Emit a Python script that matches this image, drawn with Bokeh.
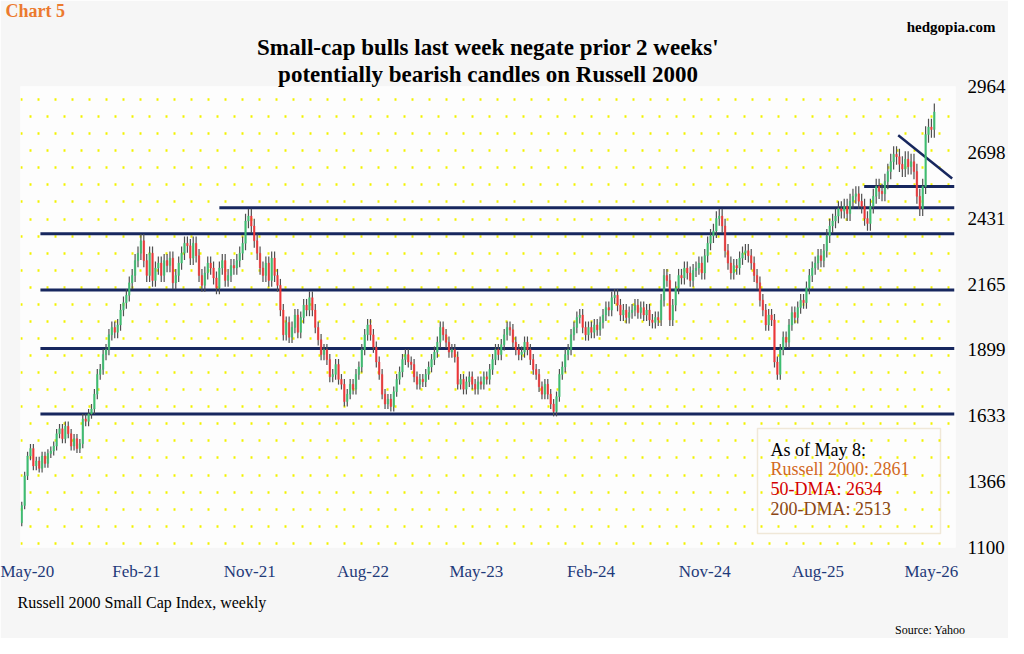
import pandas as pd
from bokeh.plotting import figure
from bokeh.models import (FixedTicker, DatetimeTickFormatter, Label, Grid, Range1d,
                          ColumnDataSource, BoxAnnotation, Title)
from bokeh.embed import file_html
from bokeh.resources import INLINE

# ---------------- data ----------------
start_date = "2020-05-01"
first_open = 1200
closes = [
    1270, 1390, 1470, 1500, 1430, 1450, 1420, 1470, 1440, 1480,
    1490, 1510, 1560, 1580, 1540, 1590, 1560, 1510, 1540, 1500,
    1520, 1620, 1610, 1640, 1660, 1720, 1800, 1820, 1880, 1900,
    1960, 1990, 1970, 2000, 2060, 2090, 2120, 2170, 2200, 2260,
    2290, 2340, 2260, 2200, 2290, 2180, 2230, 2250, 2200, 2260,
    2240, 2270, 2170, 2200, 2250, 2290, 2330, 2320, 2270, 2330,
    2280, 2200, 2160, 2210, 2250, 2230, 2190, 2150, 2230, 2260,
    2180, 2200, 2240, 2230, 2260, 2290, 2330, 2420, 2440, 2400,
    2340, 2290, 2230, 2200, 2250, 2180, 2270, 2200, 2160, 2060,
    1960, 2010, 1950, 1990, 2040, 1970, 2030, 2080, 2060, 2110,
    2060, 1990, 1940, 1880, 1900, 1860, 1790, 1800, 1840, 1780,
    1760, 1690, 1720, 1760, 1740, 1800, 1830, 1900, 1960, 2000,
    1960, 1910, 1850, 1800, 1720, 1680, 1700, 1670, 1730, 1780,
    1810, 1860, 1880, 1850, 1840, 1790, 1760, 1780, 1770, 1800,
    1830, 1860, 1890, 1930, 1990, 1960, 1930, 1890, 1900, 1870,
    1760, 1780, 1740, 1770, 1790, 1760, 1740, 1770, 1760, 1790,
    1780, 1820, 1860, 1900, 1880, 1920, 1960, 1990, 1980, 1930,
    1900, 1880, 1890, 1930, 1900, 1860, 1820, 1800, 1750, 1720,
    1760, 1720, 1680, 1650, 1710, 1800, 1830, 1880, 1900, 1960,
    1990, 2030, 2040, 1990, 1960, 1990, 1970, 2000, 1980, 2010,
    2040, 2070, 2060, 2110, 2120, 2080, 2040, 2060, 2030, 2050,
    2060, 2080, 2050, 2070, 2040, 2060, 2020, 2010, 2030, 2020,
    2100, 2200, 2180, 2020, 2080, 2150, 2200, 2190, 2230, 2210,
    2180, 2220, 2230, 2250, 2210, 2280, 2330, 2360, 2380, 2430,
    2440, 2400, 2300, 2250, 2210, 2240, 2230, 2270, 2290, 2300,
    2280, 2250, 2200, 2170, 2100, 2060, 2000, 2040, 2020, 1850,
    1800, 1900, 1950, 1930, 2000, 2050, 2030, 2070, 2100, 2090,
    2150, 2200, 2230, 2250, 2280, 2260, 2300, 2360, 2400, 2420,
    2440, 2470, 2460, 2480, 2450, 2500, 2520, 2530, 2500, 2480,
    2430, 2410, 2480, 2520, 2560, 2540, 2530, 2580, 2620, 2660,
    2690, 2680, 2650, 2630, 2670, 2640, 2660, 2620, 2520, 2470,
    2560, 2770, 2800, 2790, 2861,
]
wick_frac = 0.012

support_levels = [1640, 1905, 2141, 2369]
support_start = "2020-06-15"
resist_level = 2474
resist_start = "2021-08-20"
box_level = 2560
box_start = "2025-11-20"
trend_x = ["2026-02-10", "2026-06-20"]
trend_y = [2767, 2592]
line_end = "2026-06-25"

y_ticks = [1100, 1366, 1633, 1899, 2165, 2431, 2698, 2964]
x_tick_dates = ["2020-05-01", "2021-02-01", "2021-11-01", "2022-08-01", "2023-05-01",
                "2024-02-01", "2024-11-01", "2025-08-01", "2026-05-01"]

# ---------------- build ----------------
dates = pd.date_range(start_date, periods=len(closes), freq="7D")
opens = [first_open] + closes[:-1]
highs = [max(o, c) * (1 + wick_frac) for o, c in zip(opens, closes)]
lows = [min(o, c) * (1 - wick_frac) for o, c in zip(opens, closes)]
up = [c >= o for o, c in zip(opens, closes)]
df = pd.DataFrame(dict(date=dates, open=opens, close=closes, high=highs, low=lows,
                       top=[max(o, c) for o, c in zip(opens, closes)],
                       bot=[min(o, c) for o, c in zip(opens, closes)]))
inc = ColumnDataSource(df[up])
dec = ColumnDataSource(df[[not u for u in up]])

ms = lambda d: pd.Timestamp(d).value // 10**6
day = 24 * 3600 * 1000

FL = 20
p = figure(width=1008, height=638, output_backend="svg", toolbar_location=None,
           x_axis_type="datetime", y_axis_location="right",
           x_range=Range1d(ms(start_date) - 3 * day, ms("2026-06-28")),
           y_range=Range1d(1100, 2964),
           min_border_left=FL, min_border_right=50, min_border_top=0, min_border_bottom=0)
p.background_fill_color = "#fdfdfd"
p.border_fill_color = "#f6f6f6"
p.outline_line_color = None
p.xgrid.grid_line_color = None
p.ygrid.grid_line_color = None

g1 = Grid(dimension=1, ticker=FixedTicker(ticks=[1100 + 17 + 138 * k for k in range(14)]),
          grid_line_color="#f2f200", grid_line_width=2.5, grid_line_dash="2 15")
g2 = Grid(dimension=1, ticker=FixedTicker(ticks=[1100 + 86 + 138 * k for k in range(14)]),
          grid_line_color="#f2f200", grid_line_width=2.5, grid_line_dash="2 15",
          grid_line_dash_offset=8)
p.add_layout(g1)
p.add_layout(g2)

navy = "#17275e"
end_ms = ms(line_end)
for lv in support_levels:
    p.line([ms(support_start), end_ms], [lv, lv], line_color=navy, line_width=3)
p.line([ms(resist_start), end_ms], [resist_level] * 2, line_color=navy, line_width=3)
p.line([ms(box_start), end_ms], [box_level] * 2, line_color=navy, line_width=3)
p.line([ms(d) for d in trend_x], trend_y, line_color=navy, line_width=2.5)

w = 3.6 * day
for src, col in [(inc, "#3fbf72"), (dec, "#f0383a")]:
    p.segment("date", "high", "date", "low", source=src, line_color="#505050", line_width=1.2)
    p.vbar(x="date", width=w, top="top", bottom="bot", source=src,
           fill_color=col, line_color=col, line_width=0.5)

p.yaxis.ticker = FixedTicker(ticks=y_ticks)
p.xaxis.ticker = FixedTicker(ticks=[ms(d) for d in x_tick_dates])
p.xaxis.formatter = DatetimeTickFormatter(days="%b-%y", months="%b-%y", years="%b-%y")
for ax in (p.xaxis[0], p.yaxis[0]):
    ax.axis_line_color = None
    ax.major_tick_line_color = None
    ax.minor_tick_line_color = None
    ax.major_label_text_font = "Liberation Serif"
p.yaxis.major_label_text_font_size = "19px"
p.yaxis.major_label_text_color = "black"
p.yaxis.major_label_standoff = 6
p.xaxis.major_label_text_font_size = "17px"
p.xaxis.major_label_text_color = "#1f3a7a"
p.xaxis.major_label_standoff = 8

serif = "Liberation Serif"

def title(side, text, size, color="black", style="normal", align="left", offset=0, standoff=0):
    p.add_layout(Title(text=text, text_font=serif, text_font_size=size, text_color=color,
                       text_font_style=style, align=align, offset=offset, standoff=standoff),
                 side)

title("above", "potentially bearish candles on Russell 2000", "23px", style="bold",
      align="center", offset=-18, standoff=0)
title("above", "Small-cap bulls last week negate prior 2 weeks'", "23px", style="bold",
      align="center", offset=-18, standoff=0)
title("above", "hedgopia.com", "15px", style="bold", align="right", offset=-40, standoff=-4)
title("above", "Chart 5", "18px", "#ec7a2e", "bold", "left", offset=-15, standoff=-4)
title("below", "Russell 2000 Small Cap Index, weekly", "16px", offset=-3, standoff=16)
title("below", "Source: Yahoo", "12px", align="right", offset=-10, standoff=4)

FB = 638 - 93
def lab(x, y, t, size, color="black"):
    p.add_layout(Label(x=x - FL, y=FB - y, x_units="screen", y_units="screen", text=t,
                       text_font=serif, text_font_size=size, text_color=color,
                       text_baseline="middle"))

p.add_layout(BoxAnnotation(left=757 - FL, right=940 - FL, top=FB - 426, bottom=FB - 531,
                           left_units="screen", right_units="screen",
                           top_units="screen", bottom_units="screen",
                           fill_color=None, line_color="#d4bb84", line_width=1.5))
lab(770, 447, "As of May 8:", "18px")
lab(770, 466, "Russell 2000: 2861", "18px", "#d2691e")
lab(770, 486, "50-DMA: 2634", "18px", "#d40000")
lab(770, 506, "200-DMA: 2513", "18px", "#8b4513")

open("out.html", "w").write(file_html(p, INLINE))
